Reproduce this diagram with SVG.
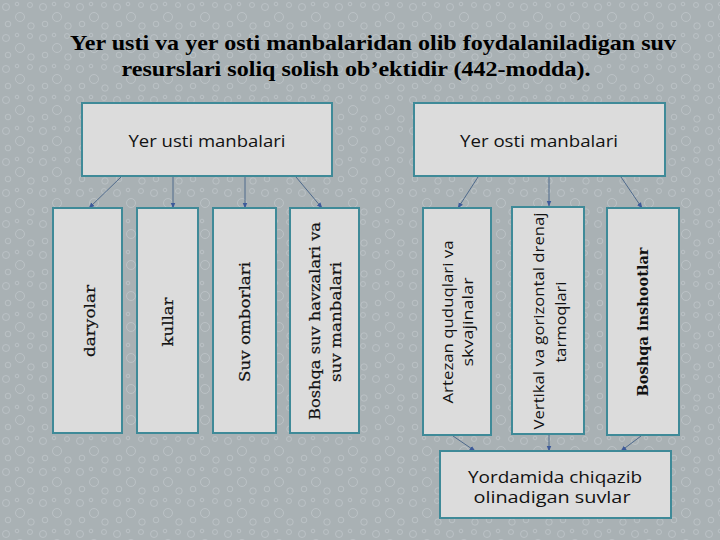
<svg xmlns="http://www.w3.org/2000/svg" width="720" height="540" viewBox="0 0 720 540">
<style>
.box{fill:#dcdcdc;stroke:#3f8a98;stroke-width:2}
.lbl{font-family:"Open Sans","Noto Sans",sans-serif;font-size:16px;fill:#111}
.vs{font-family:"DejaVu Serif","Liberation Serif",serif;font-size:15px;fill:#111;stroke:#111;stroke-width:0.2;text-anchor:middle}
.vc{font-family:"Open Sans","Noto Sans",sans-serif;font-size:15px;fill:#111;text-anchor:middle}
.title{font-family:"Liberation Serif","Times New Roman",serif;font-weight:bold;font-size:21px;fill:#000}
.con{stroke:#4f6a8c;stroke-width:1;fill:none;marker-end:url(#ah)}
.d{fill:none;stroke:#bcc3c6;stroke-width:0.9}
</style>
<defs>
<marker id="ah" viewBox="0 0 10 10" refX="9" refY="5" markerWidth="6" markerHeight="6" orient="auto" markerUnits="userSpaceOnUse">
<path d="M0,1 L10,5 L0,9 z" fill="#3d5a9a"/>
</marker>
<pattern id="drops" width="37" height="31" patternUnits="userSpaceOnUse">
<rect width="37" height="31" fill="#a9b1b4"/>
<circle class="d" cx="6" cy="7" r="3.5"/>
<circle class="d" cx="20" cy="17" r="4.5"/>
<circle class="d" cx="30" cy="5" r="2.5"/>
<circle class="d" cx="8" cy="24" r="2.8"/>
<circle class="d" cx="31" cy="26" r="3.2"/>
<circle class="d" cx="17" cy="4" r="1.8"/>
</pattern>
</defs>
<rect width="720" height="540" fill="url(#drops)"/>
<g id="title">
<text class="title" x="373" y="50" text-anchor="middle" textLength="606" lengthAdjust="spacingAndGlyphs">Yer usti va yer osti manbalaridan olib foydalaniladigan suv</text>
<text class="title" x="356" y="76" text-anchor="middle" textLength="469" lengthAdjust="spacingAndGlyphs">resurslari soliq solish ob’ektidir (442-modda).</text>
</g>
<g id="connectors">
<line class="con" x1="121" y1="177" x2="89" y2="208"/>
<line class="con" x1="173" y1="177" x2="173" y2="208"/>
<line class="con" x1="245" y1="177" x2="245" y2="208"/>
<line class="con" x1="296" y1="177" x2="322" y2="208"/>
<line class="con" x1="478" y1="177" x2="458" y2="208"/>
<line class="con" x1="549" y1="177" x2="549" y2="206"/>
<line class="con" x1="621" y1="177" x2="642" y2="208"/>
<line class="con" x1="453" y1="436" x2="475" y2="451"/>
<line class="con" x1="549" y1="435" x2="549" y2="451"/>
<line class="con" x1="641" y1="436" x2="621" y2="451"/>
</g>
<g id="n-yer-usti">
<rect class="box" x="82" y="103" width="250" height="73"/>
<text class="lbl" x="207" y="147" text-anchor="middle" textLength="157" lengthAdjust="spacingAndGlyphs">Yer usti manbalari</text>
</g>
<g id="n-yer-osti">
<rect class="box" x="414" y="103" width="251" height="73"/>
<text class="lbl" x="539" y="147" text-anchor="middle" textLength="158" lengthAdjust="spacingAndGlyphs">Yer osti manbalari</text>
</g>
<g id="n-daryolar">
<rect class="box" x="53" y="208" width="69" height="225"/>
<text class="vs" transform="translate(95,321) rotate(-90)" textLength="72" lengthAdjust="spacingAndGlyphs">daryolar</text>
</g>
<g id="n-kullar">
<rect class="box" x="137" y="208" width="61" height="225"/>
<text class="vs" transform="translate(173,322) rotate(-90)" textLength="49" lengthAdjust="spacingAndGlyphs">kullar</text>
</g>
<g id="n-suv-omborlari">
<rect class="box" x="213" y="208" width="63" height="225"/>
<text class="vs" transform="translate(250,322) rotate(-90)" textLength="120" lengthAdjust="spacingAndGlyphs">Suv omborlari</text>
</g>
<g id="n-boshqa-suv">
<rect class="box" x="290" y="208" width="69" height="225"/>
<text class="vs" transform="translate(320,321) rotate(-90)" textLength="198" lengthAdjust="spacingAndGlyphs">Boshqa suv havzalari va</text>
<text class="vs" transform="translate(341,322) rotate(-90)" textLength="120" lengthAdjust="spacingAndGlyphs">suv manbalari</text>
</g>
<g id="n-artezan">
<rect class="box" x="423" y="208" width="68" height="227"/>
<text class="vc" transform="translate(453,322) rotate(-90)" textLength="163" lengthAdjust="spacingAndGlyphs">Artezan quduqlari va</text>
<text class="vc" transform="translate(473,322) rotate(-90)" textLength="89" lengthAdjust="spacingAndGlyphs">skvajinalar</text>
</g>
<g id="n-vertikal">
<rect class="box" x="512" y="207" width="72" height="227"/>
<text class="vc" transform="translate(544,321) rotate(-90)" textLength="217" lengthAdjust="spacingAndGlyphs">Vertikal va gorizontal drenaj</text>
<text class="vc" transform="translate(566,322) rotate(-90)" textLength="81" lengthAdjust="spacingAndGlyphs">tarmoqlari</text>
</g>
<g id="n-boshqa-inshootlar">
<rect class="box" x="607" y="208" width="72" height="227"/>
<text class="vs" transform="translate(648,322) rotate(-90)" font-weight="bold" style="stroke-width:0" textLength="149" lengthAdjust="spacingAndGlyphs">Boshqa inshootlar</text>
</g>
<g id="n-yordamida">
<rect class="box" x="440" y="451" width="231" height="67"/>
<text class="lbl" x="555" y="483" text-anchor="middle" textLength="174" lengthAdjust="spacingAndGlyphs">Yordamida chiqazib</text>
<text class="lbl" x="552" y="503" text-anchor="middle" textLength="157" lengthAdjust="spacingAndGlyphs">olinadigan suvlar</text>
</g>
</svg>
